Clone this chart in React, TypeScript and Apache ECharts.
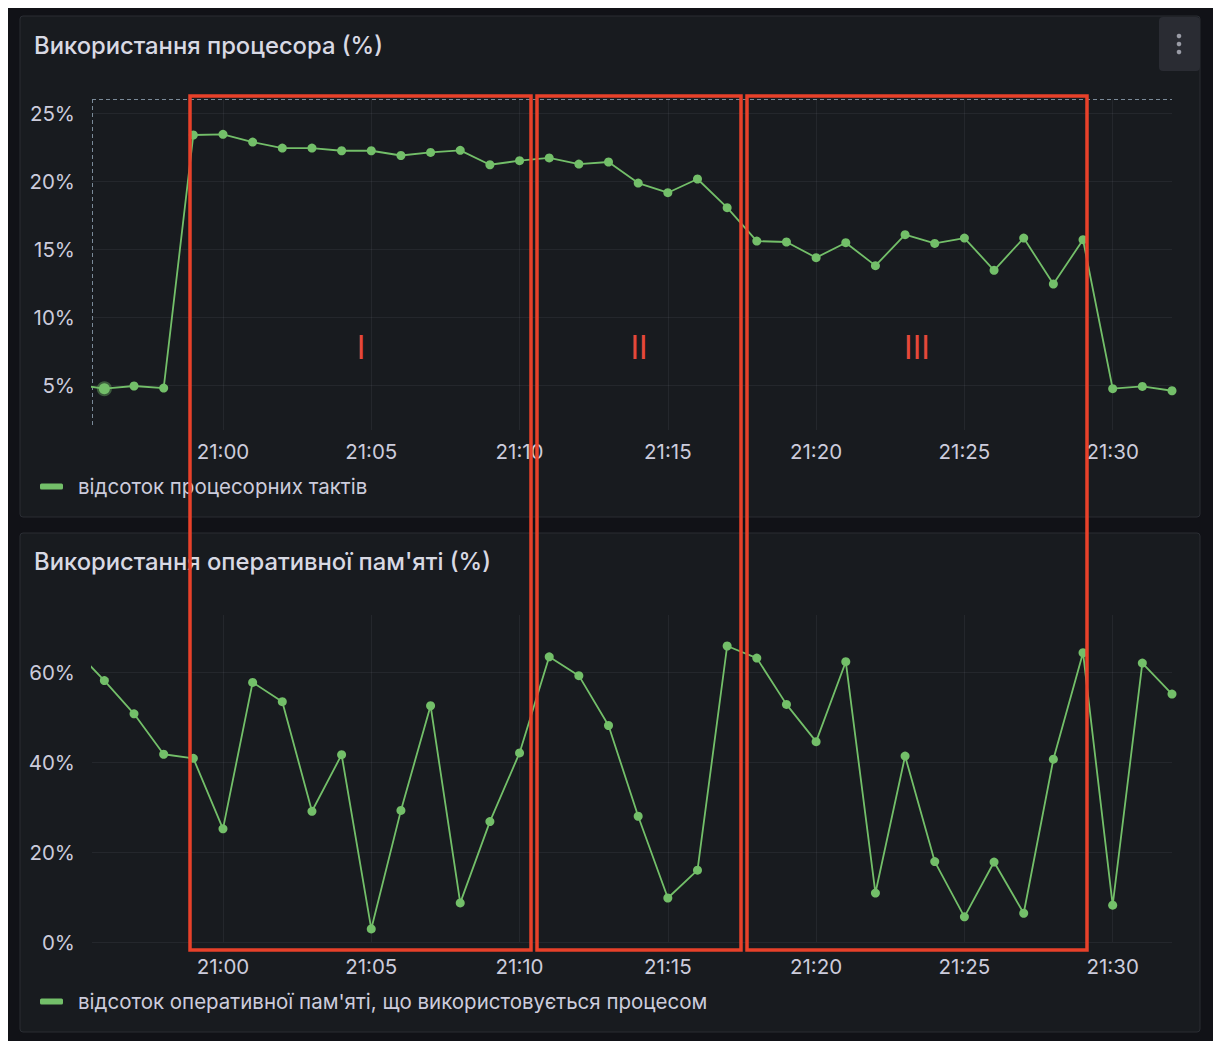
import React, { useEffect, useRef } from "react";
import * as echarts from "echarts";

// ---- data (one point per minute) ----
const timeLabels = [
  "20:55", "20:56", "20:57", "20:58", "20:59", "21:00", "21:01", "21:02", "21:03", "21:04",
  "21:05", "21:06", "21:07", "21:08", "21:09", "21:10", "21:11", "21:12", "21:13", "21:14",
  "21:15", "21:16", "21:17", "21:18", "21:19", "21:20", "21:21", "21:22", "21:23", "21:24",
  "21:25", "21:26", "21:27", "21:28", "21:29", "21:30", "21:31", "21:32",
];
const cpuValues = [
  5.05, 4.73, 4.93, 4.78, 23.41, 23.46, 22.89, 22.45, 22.45, 22.25,
  22.25, 21.9, 22.13, 22.28, 21.22, 21.52, 21.72, 21.27, 21.42, 19.87,
  19.16, 20.17, 18.06, 15.6, 15.53, 14.38, 15.48, 13.79, 16.07, 15.43,
  15.82, 13.45, 15.82, 12.44, 15.7, 4.73, 4.9, 4.58,
];
const ramValues = [
  65.1, 58.2, 50.8, 41.8, 40.9, 25.2, 57.8, 53.5, 29.1, 41.7,
  2.9, 29.3, 52.6, 8.7, 26.8, 42.1, 63.5, 59.3, 48.2, 28.0,
  9.8, 16.0, 65.9, 63.2, 52.9, 44.6, 62.4, 10.9, 41.4, 17.9,
  5.6, 17.8, 6.4, 40.7, 64.4, 8.2, 62.1, 55.2,
];
const cpuTitle = "Використання процесора (%)";
const ramTitle = "Використання оперативної пам'яті (%)";
const cpuSeriesName = "відсоток процесорних тактів";
const ramSeriesName = "відсоток оперативної пам'яті, що використовується процесом";
const regionLabels = ["I", "II", "III"];
const hoverIndex = 1; // highlighted point in the CPU panel

// time axis extent (time range of the dashboard, in minutes of the day)
const timeRangeStart = "20:55:35";
const timeRangeEnd = "21:32";

const toMin = (s: string) => {
  const p = s.split(":").map(Number);
  return p[0] * 60 + p[1] + (p[2] || 0) / 60;
};
const fmtTime = (v: number) => {
  const m = Math.round(v);
  const h = Math.floor(m / 60);
  const mm = m % 60;
  return `${h}:${mm < 10 ? "0" + mm : mm}`;
};

const GREEN = "#73bf69";
const TEXT = "#ccccdc";
const GRIDLINE = "rgba(204,204,220,0.07)";
const RED = "#e8412a";
const FONT = "Inter, Roboto, sans-serif";
const FS = 20.5;

export default function App() {
  const ref = useRef<HTMLDivElement>(null);
  useEffect(() => {
    if (!ref.current) return;
    const chart = echarts.init(ref.current, null, { renderer: "svg" });
    const xs = timeLabels.map(toMin);
    const cpuData = cpuValues.map((v, i) =>
      i === hoverIndex
        ? {
            value: [xs[i], v],
            symbolSize: 11,
            itemStyle: { color: GREEN, borderColor: "rgba(115,191,105,0.4)", borderWidth: 4 },
          }
        : [xs[i], v]
    );
    const ramData = ramValues.map((v, i) => [xs[i], v]);

    const xAxisBase = (gridIndex: number, margin: number) => ({
      type: "value",
      gridIndex,
      min: toMin(timeRangeStart),
      max: toMin(timeRangeEnd),
      splitNumber: 7,
      axisLine: { show: false },
      axisTick: { show: false },
      axisLabel: {
        color: TEXT,
        fontSize: FS,
        fontFamily: FONT,
        margin,
        showMinLabel: false,
        showMaxLabel: false,
        formatter: (v: number) => fmtTime(v),
      },
      splitLine: { show: true, showMinLine: false, showMaxLine: false, lineStyle: { color: GRIDLINE, width: 1 } },
    });

    const yLabel = {
      color: TEXT,
      fontSize: FS,
      fontFamily: FONT,
      margin: 17,
      showMinLabel: false,
      showMaxLabel: false,
      formatter: (v: number) => `${v}%`,
    };

    const panel = (y: number, h: number) => ({
      type: "rect",
      z: -10,
      shape: { x: 12, y, width: 1180, height: h, r: 3 },
      style: { fill: "#181b1f", stroke: "#2a2d33", lineWidth: 1 },
      silent: true,
    });
    const title = (text: string, y: number) => ({
      type: "text",
      z: 5,
      style: {
        text,
        x: 26,
        y,
        fill: "#d8d9e3",
        font: `500 23.8px ${FONT}`,
        verticalAlign: "middle",
        align: "left",
      },
      silent: true,
    });
    const box = (x0: number, x1: number) => ({
      type: "rect",
      z: 100,
      shape: { x: x0, y: 88, width: x1 - x0, height: 854 },
      style: { fill: "none", stroke: RED, lineWidth: 3.5 },
      silent: true,
    });
    const numeral = (text: string, x: number) => ({
      type: "text",
      z: 100,
      style: {
        text,
        x,
        y: 339,
        fill: "#e5483a",
        font: `400 32px ${FONT}`,
        align: "center",
        verticalAlign: "middle",
      },
      silent: true,
    });

    const legendBase = (name: string, top: number) => ({
      data: [name],
      left: 32,
      top,
      padding: 0,
      icon: "roundRect",
      itemWidth: 23,
      itemHeight: 6,
      selectedMode: false,
      textStyle: { color: TEXT, fontSize: FS, fontFamily: FONT, padding: [0, 0, 0, 10] },
    });

    const lineSeries = (name: string, idx: number, data: any[]) => ({
      name,
      type: "line",
      xAxisIndex: idx,
      yAxisIndex: idx,
      data,
      clip: true,
      symbol: "circle",
      symbolSize: 9,
      showSymbol: true,
      color: GREEN,
      lineStyle: { color: GREEN, width: 1.8 },
      itemStyle: { color: GREEN },
      emphasis: { disabled: true },
    });

    chart.setOption({
      animation: false,
      backgroundColor: "#111217",
      textStyle: { fontFamily: FONT },
      grid: [
        { left: 84, top: 91, width: 1080, height: 331, containLabel: false },
        { left: 84, top: 607, width: 1080, height: 327, containLabel: false },
      ],
      xAxis: [xAxisBase(0, 11), xAxisBase(1, 14)],
      yAxis: [
        {
          type: "value",
          gridIndex: 0,
          min: 1.69,
          max: 26.06,
          splitNumber: 5,
          axisLine: { show: false },
          axisTick: { show: false },
          axisLabel: yLabel,
          splitLine: { show: true, showMinLine: false, showMaxLine: false, lineStyle: { color: GRIDLINE } },
        },
        {
          type: "value",
          gridIndex: 1,
          min: 0,
          max: 72.8,
          interval: 20,
          axisLine: { show: false },
          axisTick: { show: false },
          axisLabel: { ...yLabel, showMinLabel: true },
          splitLine: { show: true, showMaxLine: false, lineStyle: { color: GRIDLINE } },
        },
      ],
      legend: [legendBase(cpuSeriesName, 468), legendBase(ramSeriesName, 983)],
      series: [lineSeries(cpuSeriesName, 0, cpuData), lineSeries(ramSeriesName, 1, ramData)],
      graphic: [
        panel(8, 501),
        panel(525, 499),
        title(cpuTitle, 37),
        title(ramTitle, 553),
        {
          type: "rect",
          z: 5,
          shape: { x: 1151, y: 9, width: 41, height: 54, r: 4 },
          style: { fill: "#2a2c33" },
          silent: true,
        },
        { type: "circle", z: 6, shape: { cx: 1171, cy: 28, r: 2.3 }, style: { fill: "#9a9ca6" }, silent: true },
        { type: "circle", z: 6, shape: { cx: 1171, cy: 36, r: 2.3 }, style: { fill: "#9a9ca6" }, silent: true },
        { type: "circle", z: 6, shape: { cx: 1171, cy: 44, r: 2.3 }, style: { fill: "#9a9ca6" }, silent: true },
        {
          type: "line",
          z: 3,
          shape: { x1: 84, y1: 91.5, x2: 1164, y2: 91.5 },
          style: { stroke: "#7a8a98", lineWidth: 1, lineDash: [4, 3] },
          silent: true,
        },
        {
          type: "line",
          z: 3,
          shape: { x1: 84.5, y1: 91, x2: 84.5, y2: 419 },
          style: { stroke: "#7a8a98", lineWidth: 1, lineDash: [4, 3] },
          silent: true,
        },
        box(182, 523),
        box(529, 733),
        box(739, 1079),
        numeral(regionLabels[0], 353),
        numeral(regionLabels[1], 631),
        numeral(regionLabels[2], 909),
      ],
    });
    return () => chart.dispose();
  }, []);

  return (
    <div
      ref={ref}
      style={{ position: "absolute", left: 8, top: 8, width: 1205, height: 1033 }}
    />
  );
}
